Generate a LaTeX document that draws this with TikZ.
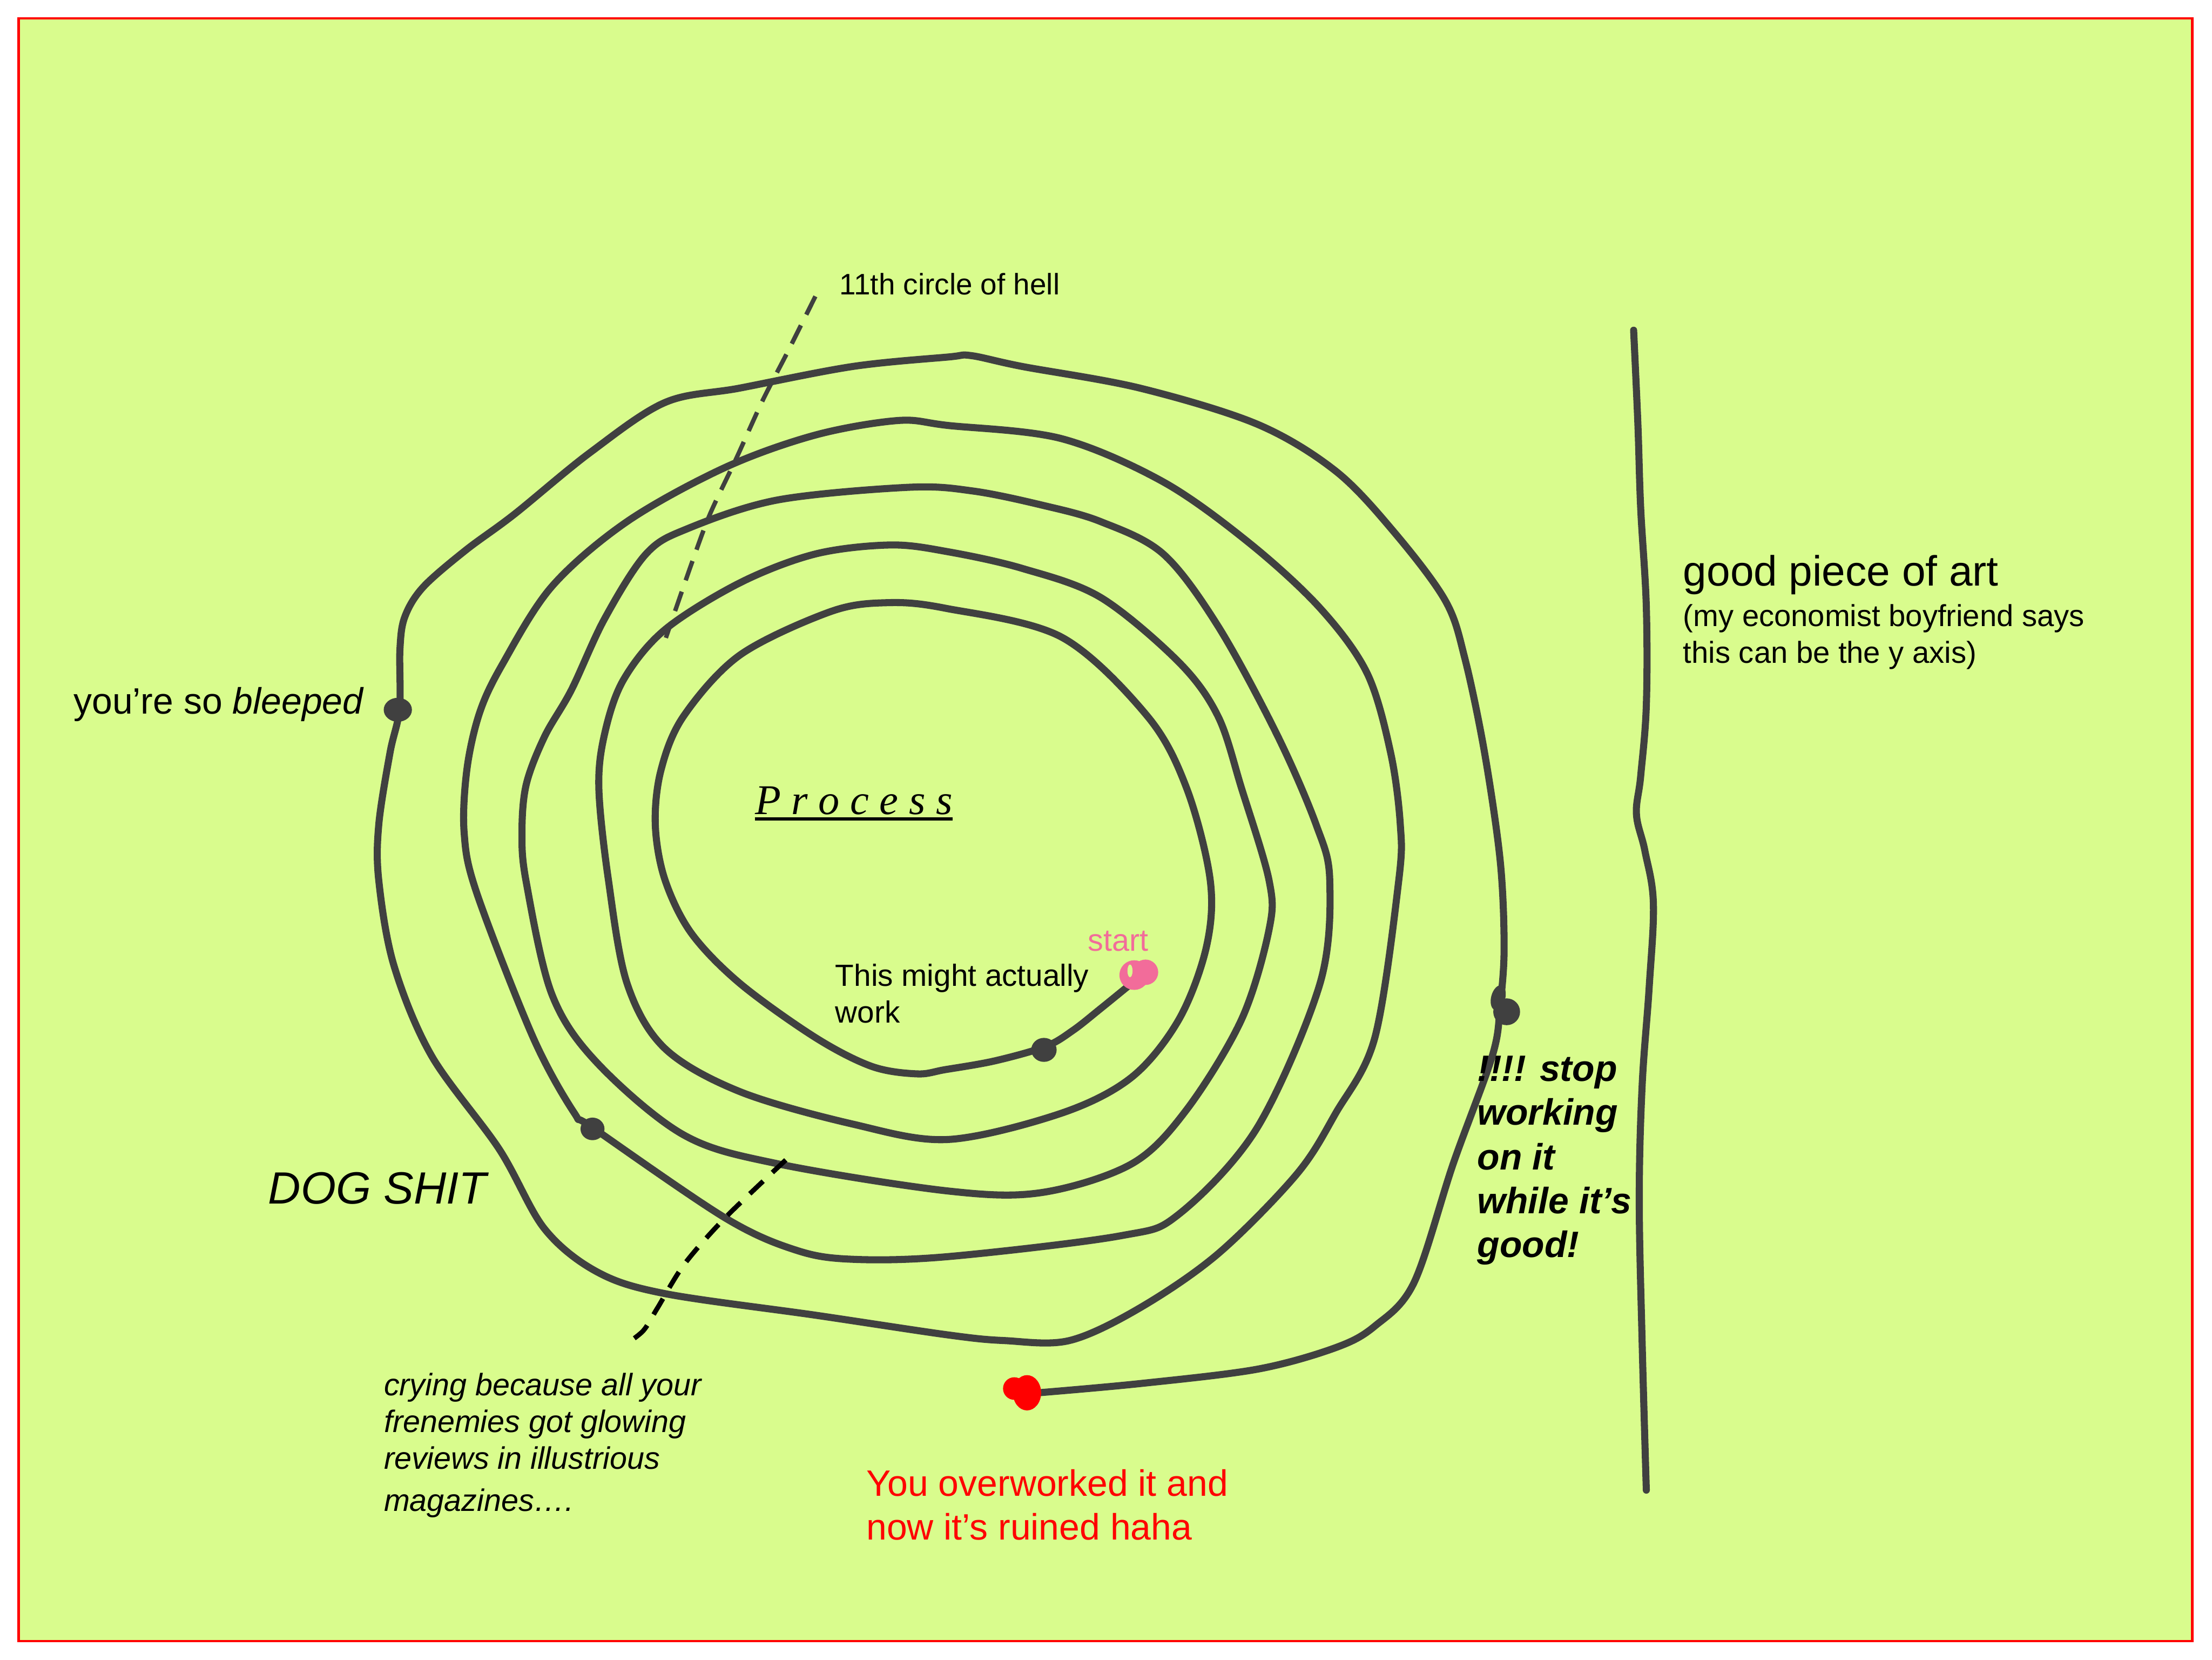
\documentclass[tikz,border=0pt]{standalone}
\usepackage{fontspec}
\setmainfont{Liberation Sans}
\newfontfamily\timesf{Liberation Serif}
\definecolor{bgc}{RGB}{217,252,141}
\definecolor{inkc}{RGB}{64,64,64}
\definecolor{startc}{RGB}{242,108,154}
\begin{document}
\begin{tikzpicture}[x=1pt,y=-1pt,
  spiralline/.style={draw=inkc, line width=5pt, line cap=round, line join=round},
  hellline/.style={draw=inkc, line width=3.1pt, dash pattern=on 14.5pt off 8.5pt},
  cryline/.style={draw=black, line width=3.4pt, dash pattern=on 13pt off 9pt},
  lbl/.style={inner sep=0pt, anchor=base west},
  blob/.style={fill=inkc}]
\useasboundingbox (0,0) rectangle (1568,1176);
\fill[white] (0,0) rectangle (1568,1176);
\draw[draw=red, line width=1.6pt, fill=bgc] (13.2,13) rectangle (1554,1163);

% spiral
\draw[spiralline] plot[smooth, tension=0.55] coordinates {
(803.7,695.6) (780.1,714.8) (760.7,730.1) (741.2,741.6) (705.1,751.8) (670,758) (650,761)
(617.9,755.7) (577.9,735.2) (524.5,696.9) (489.9,661.1) (471.2,623) (464.5,584.3)
(468.5,545.9) (484.5,507.6) (524.5,464.2) (588.5,433.5) (628.5,427.1) (670,431)
(752.3,451.4) (813.4,507.6) (841.2,558.7) (857.9,624) (855.1,671.3) (835.7,722.4)
(802.3,763.3) (752.3,788.9) (672,807.5) (604.5,796.6) (524.5,773.6) (471.2,742.9)
(444.5,696.9) (431.2,623) (424.5,558.7) (428.5,520.4) (441.8,482.0) (471.2,446.3)
(524.5,413.0) (577.9,392.6) (631.2,386.2) (672,391) (724.6,402.8) (780.1,423.3)
(835.7,469.3) (863.4,507.6) (880.1,558.7) (899.6,624) (899.6,658.6) (880.1,722.4)
(841.2,786.3) (802.3,824.7) (738.4,845.1) (672,844) (551.2,824.7) (484.5,804.2)
(423.2,753.1) (391.2,704.6) (373,625) (370,590) (373,556) (386,522) (405,489)
(428.5,438.6) (457.9,392.6) (487.2,374.7) (551.2,354.3) (644.5,345.3) (690,348)
(738.4,357.9) (780.1,369.6) (824.6,392.6) (863.4,443.7) (905.1,520.4) (932.9,584.3)
(942.6,624) (935.7,696.9) (891.2,799.1) (835.7,860.4) (794,875.8) (672,890.5)
(604.5,892.4) (564.5,886.0) (513.9,863.0) (420,799) (407.2,788.9) (377.9,735.2)
(338,633) (329,590) (331,545) (340,505) (356,471) (391.2,415.6) (444.5,369.6)
(513.9,331.3) (577.9,308.3) (636.5,298.0) (672,301.5) (752.3,310.8) (824.6,341.5)
(885.7,384.9) (935.7,430.9) (969,476.9) (985.7,533.2) (992.6,584.3) (991.5,624)
(974.6,735.2) (946.8,788.9) (919,832.3) (863.4,888.5) (807.9,926.9) (758,950)
(712,950) (672,946) (577.9,932.0) (471.2,916.7) (423.2,901.3) (385.9,870.7) (353.9,814.4)
(305.8,748.0) (279.2,684.1) (268.5,624) (268.5,584.3) (276.5,533.2) (283.2,502.5)
(283.5,460) (287,437) (300,416) (330,390) (364.5,364.5) (417.9,321.0) (471.2,285.3)
(524.5,275.0) (604.5,259.7) (672,253) (688.4,252.0) (724.6,259.7) (807.9,275.0)
(891.2,300.6) (946.8,333.8) (988.4,377.3) (1024.6,425.8) (1038.4,466.7) (1052.3,533.2)
(1063.4,609.8) (1066.2,671.3) (1063.4,712.2) (1057.9,748.0) (1030.1,824.7) (1002.3,909.0)
(974.6,939.7) (946.8,955.0) (891.2,970.3) (807.9,980.5) (736,987)};

% y axis
\draw[spiralline] plot[smooth, tension=0.6] coordinates {(1158,234) (1161,300) (1163,360)
(1167,430) (1167,500) (1163,550) (1160,577) (1166,603) (1172,640) (1169,700) (1164,770)
(1162,850) (1164,950) (1167,1056)};

% dashed leaders
\draw[hellline] plot[smooth] coordinates {(578,210) (558,250) (540.5,284) (521.9,324.9)
(503.2,364.5) (489.9,400.3) (472,452)};
\draw[cryline] plot[smooth] coordinates {(557,822) (514,863) (485,896) (466,927) (456,943) (443,953)};

% direction blobs
\fill[blob] (740,744) ellipse [x radius=9pt, y radius=8.5pt];
\fill[blob] (420,800) ellipse [x radius=8.5pt, y radius=8pt];
\fill[blob] (282,503) ellipse [x radius=10pt, y radius=8.5pt];
\fill[blob] (1068,717) circle [radius=9.5pt];
\fill[blob, rotate around={-15:(1062,707)}] (1062,707) ellipse [x radius=5pt, y radius=9pt];

% start blob
\fill[startc] (804,691) circle [radius=10.5pt];
\fill[startc] (812,689) circle [radius=9pt];
\fill[bgc] (801,688) ellipse [x radius=1.8pt, y radius=4.5pt];

% end blob
\fill[red] (728,987) ellipse [x radius=10pt, y radius=12.5pt];
\fill[red] (719,984) circle [radius=8pt];

% texts
\node[lbl, font=\fontsize{21}{25}\selectfont] (hell) at (595,209) {11th circle of hell};
\node[lbl, font=\fontsize{30}{36}\selectfont] (art) at (1193,415) {good piece of art};
\node[lbl, font=\fontsize{21.5}{26}\selectfont] (econa) at (1193,444) {(my economist boyfriend says};
\node[lbl, font=\fontsize{21.5}{26}\selectfont] (econb) at (1193,470) {this can be the y axis)};
\node[lbl, font=\fontsize{26}{31}\selectfont] (bleep) at (52,506) {you’re so \textit{bleeped}};
\node[lbl, font=\timesf\itshape\fontsize{30}{36}\selectfont] (proc) at (535,577) {P r o c e s s};
\draw[line width=2.3pt] ([yshift=-3.2pt]proc.base west) -- ([yshift=-3.2pt]proc.base east);
\node[lbl, text=startc, font=\fontsize{22}{26}\selectfont] (startlbl) at (771,674) {start};
\node[lbl, font=\fontsize{21.7}{26}\selectfont] (mighta) at (592,699) {This might actually};
\node[lbl, font=\fontsize{21.7}{26}\selectfont] (mightb) at (592,725) {work};
\node[lbl, font=\itshape\fontsize{32}{38}\selectfont] (dog) at (190,853) {DOG SHIT};
\node[lbl, font=\itshape\fontsize{22}{26}\selectfont] (crya) at (272,989) {crying because all your};
\node[lbl, font=\itshape\fontsize{22}{26}\selectfont] (cryb) at (272,1015) {frenemies got glowing};
\node[lbl, font=\itshape\fontsize{22}{26}\selectfont] (cryc) at (272,1041) {reviews in illustrious};
\node[lbl, font=\itshape\fontsize{22}{26}\selectfont] (cryd) at (272,1071) {magazines….};
\node[lbl, text=red, font=\fontsize{26}{31}\selectfont] (overa) at (614,1060) {You overworked it and};
\node[lbl, text=red, font=\fontsize{26}{31}\selectfont] (overb) at (614,1091) {now it’s ruined haha};
\node[lbl, font=\bfseries\itshape\fontsize{26}{31}\selectfont] (stopa) at (1047,766) {!!!! stop};
\node[lbl, font=\bfseries\itshape\fontsize{26}{31}\selectfont] (stopb) at (1047,797) {working};
\node[lbl, font=\bfseries\itshape\fontsize{26}{31}\selectfont] (stopc) at (1047,829) {on it};
\node[lbl, font=\bfseries\itshape\fontsize{26}{31}\selectfont] (stopd) at (1047,860) {while it’s};
\node[lbl, font=\bfseries\itshape\fontsize{26}{31}\selectfont] (stope) at (1047,891) {good!};
\end{tikzpicture}
\end{document}
